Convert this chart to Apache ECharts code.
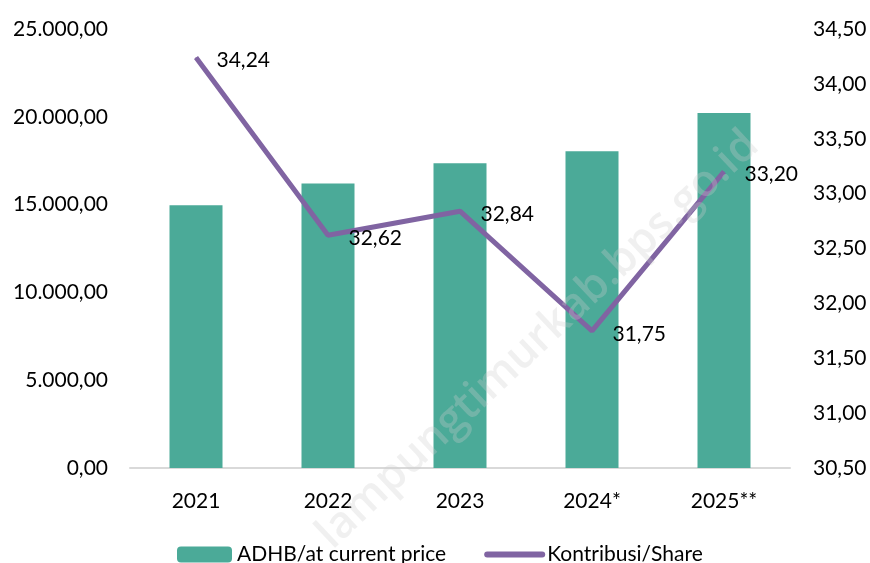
<!DOCTYPE html>
<html>
<head>
<meta charset="UTF-8">
<title>ADHB dan Kontribusi</title>
<script src="https://cdn.jsdelivr.net/npm/echarts@6/dist/echarts.min.js"></script>
<style>
  html, body { margin: 0; padding: 0; background: #fff; }
</style>
</head>
<body>
<div id="main" style="width: 870px; height: 563px;"></div>
<script type="text/javascript">
// data
var years = ['2021', '2022', '2023', '2024*', '2025**'];
var adhb = [14970, 16200, 17360, 18045, 20210];
var share = [34.24, 32.62, 32.84, 31.75, 33.20];

function idNum(v) {
  var parts = Number(v).toFixed(2).split('.');
  parts[0] = parts[0].replace(/\B(?=(\d{3})+(?!\d))/g, '.');
  return parts[0] + ',' + parts[1];
}

var font = 'Lato';
var purple = '#8064a2';
var myChart = echarts.init(document.getElementById('main'));
var option = {
  animation: false,
  textStyle: { fontFamily: font },
  grid: { left: 130, right: 80, top: 29, bottom: 95, containLabel: false, outerBoundsMode: 'none' },
  legend: {
    bottom: -7,
    left: 172,
    itemWidth: 55,
    itemHeight: 16,
    itemGap: 38,
    lineStyle: { width: 6, cap: 'round' },
    textStyle: { fontFamily: font, fontSize: 21, color: '#000' },
    data: ['ADHB/at current price', 'Kontribusi/Share']
  },
  xAxis: {
    type: 'category',
    data: years,
    axisLine: { lineStyle: { color: '#d9d9d9', width: 2 } },
    axisTick: { show: false },
    axisLabel: { fontSize: 21, color: '#000', margin: 23 }
  },
  yAxis: [{
    type: 'value',
    min: 0, max: 25000, interval: 5000,
    splitLine: { show: false },
    axisLabel: { fontSize: 21, color: '#000', margin: 22, formatter: idNum }
  }, {
    type: 'value',
    min: 30.5, max: 34.5, interval: 0.5,
    splitLine: { show: false },
    axisLabel: { fontSize: 21, color: '#000', margin: 23, formatter: idNum }
  }],
  series: [{
    name: 'ADHB/at current price',
    type: 'bar',
    data: adhb,
    barWidth: 53,
    itemStyle: { color: '#4baa98' }
  }, {
    name: 'Kontribusi/Share',
    type: 'line',
    yAxisIndex: 1,
    data: share,
    symbol: 'none',
    lineStyle: { color: purple, width: 5 },
    itemStyle: { color: purple, opacity: 0 }
  }, {
    // data labels for the share line
    name: 'shareLabels',
    type: 'scatter',
    yAxisIndex: 1,
    data: share,
    symbolSize: 1,
    itemStyle: { color: purple, opacity: 1 },
    silent: true,
    z: 5,
    label: {
      show: true,
      position: 'right',
      distance: 20,
      offset: [0, 3],
      fontSize: 21,
      color: '#000',
      opacity: 1,
      formatter: function (p) { return idNum(p.value); }
    }
  }],
  graphic: [{
    type: 'text',
    x: 538, y: 340,
    rotation: Math.PI * 0.24,
    z: 100,
    style: {
      text: 'lampungtimurkab.bps.go.id',
      fontFamily: 'Open Sans',
      fontWeight: 600,
      fontSize: 44,
      fill: 'rgba(205,205,205,0.3)',
      textAlign: 'center',
      textVerticalAlign: 'middle'
    }
  }]
};
myChart.setOption(option);
</script>
</body>
</html>
